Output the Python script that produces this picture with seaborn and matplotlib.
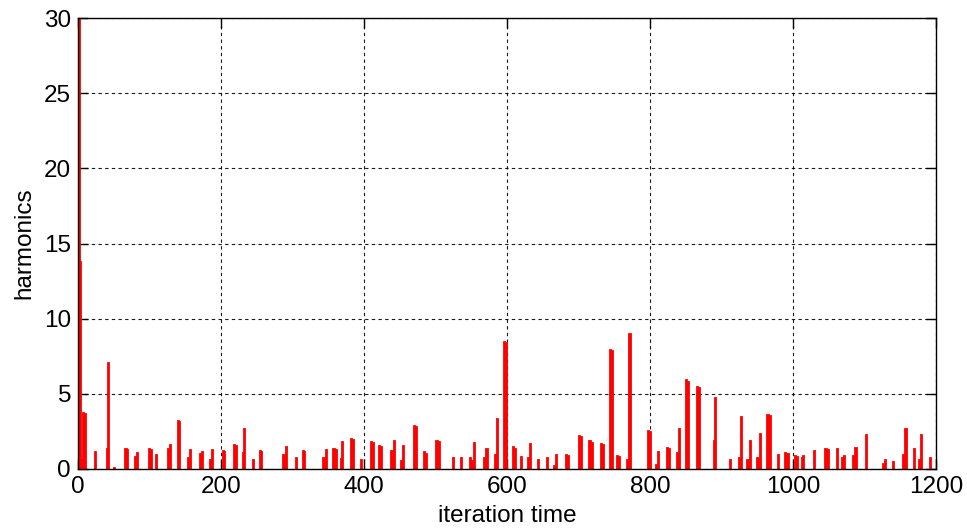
"""
harmonics vs iteration time (stem-like red bars)
"""
import numpy as np
import pandas as pd
import matplotlib
matplotlib.use('Agg')
import matplotlib.pyplot as plt
import seaborn as sns

# iteration positions and harmonic amplitudes
iteration = [2, 4, 6, 8, 10, 25, 41, 43, 51,
             67, 69, 80, 83, 100, 102, 110, 126, 129, 140, 142,
             154, 157, 171, 174, 185, 188, 203, 205, 219, 221, 231, 233,
             245, 255, 257, 288, 291, 305, 315, 317, 344, 347, 358, 361,
             368, 370, 382, 385, 396, 410, 413, 422, 425, 439, 442,
             452, 455, 470, 473, 484, 487, 502, 505, 525, 536, 549, 552,
             555, 569, 572, 584, 587, 597, 599, 609, 612, 620, 630, 633,
             644, 656, 666, 669, 683, 686, 701, 704, 716, 719, 732, 735,
             745, 747, 754, 757, 769, 772, 798, 800, 809, 812, 824, 827,
             838, 841, 851, 853, 866, 869, 890, 892, 913, 925, 928,
             937, 940, 951, 954, 965, 968, 980, 990, 993, 1003, 1006,
             1013, 1015, 1030, 1046, 1049, 1062, 1069, 1072, 1085, 1088,
             1103, 1126, 1129, 1141, 1155, 1158, 1170, 1177, 1180, 1192]
harmonics = [30.0, 13.8, 0.6, 3.7, 3.65, 1.1, 1.3, 7.05, 0.05,
             1.35, 1.25, 0.8, 1.05, 1.35, 1.25, 0.9, 1.3, 1.6, 3.2, 3.1,
             0.75, 1.25, 1.0, 1.15, 0.6, 1.25, 1.2, 1.1, 1.6, 1.5, 1.05, 2.65,
             0.58, 1.2, 1.1, 0.95, 1.45, 0.73, 1.2, 1.1, 0.75, 1.27, 1.35, 1.25,
             0.67, 1.8, 1.98, 1.9, 0.58, 1.82, 1.75, 1.55, 1.45, 1.2, 1.88,
             0.5, 1.53, 2.87, 2.78, 1.1, 1.0, 1.88, 1.8, 0.73, 0.73, 0.73, 0.55,
             1.73, 0.73, 1.35, 0.93, 3.3, 8.45, 8.35, 1.44, 1.33, 0.8, 0.7, 1.67,
             0.62, 0.71, 0.2, 0.96, 0.96, 0.89, 2.2, 2.13, 1.84, 1.76, 1.69, 1.58,
             7.91, 7.82, 0.89, 0.82, 0.62, 8.96, 2.53, 2.47, 0.29, 1.16, 1.42, 1.33,
             1.04, 2.64, 5.89, 5.8, 5.44, 5.36, 1.84, 4.73, 0.62, 0.71, 3.49,
             0.62, 1.84, 0.71, 2.36, 3.6, 3.51, 0.96, 1.07, 1.0, 0.89, 0.82,
             0.71, 0.87, 1.22, 1.33, 1.24, 1.33, 0.71, 0.89, 0.89, 1.42,
             2.29, 0.36, 0.62, 0.44, 0.96, 2.64, 1.33, 0.62, 2.29, 0.71]

xticks = [0, 200, 400, 600, 800, 1000, 1200]
yticks = [0, 5, 10, 15, 20, 25, 30]

df = pd.DataFrame({'iteration': iteration, 'harmonics': harmonics})

sns.set_style('white')
plt.rcParams['font.family'] = ['Liberation Sans', 'DejaVu Sans']
plt.rcParams['text.color'] = 'black'
plt.rcParams['axes.labelcolor'] = 'black'

fig = plt.figure(figsize=(9.67, 5.31), dpi=100)
ax = fig.add_axes([0.0807, 0.1168, 0.8873, 0.8492])

sns.barplot(data=df, x='iteration', y='harmonics', native_scale=True,
            color='#ff0000', saturation=1, width=0.8, errorbar=None,
            edgecolor='#ff0000', linewidth=1.3, ax=ax)

ax.set_xlim(0, 1200)
ax.set_ylim(0, 30)
ax.set_xticks(xticks)
ax.set_yticks(yticks)
ax.tick_params(direction='in', length=7, width=1, labelsize=17.5, colors='black',
               top=True, right=True, bottom=True, left=True, pad=5)
ax.grid(True, color='black', linestyle=(0, (3, 3)), linewidth=0.8, alpha=0.9)
ax.set_axisbelow(True)
for s in ax.spines.values():
    s.set_color('black')
    s.set_linewidth(1.0)

ax.set_xlabel('iteration time', fontsize=17.5, labelpad=5)
ax.set_ylabel('harmonics', fontsize=17.5, labelpad=6)

plt.savefig('out.png', dpi=100)
plt.close()
